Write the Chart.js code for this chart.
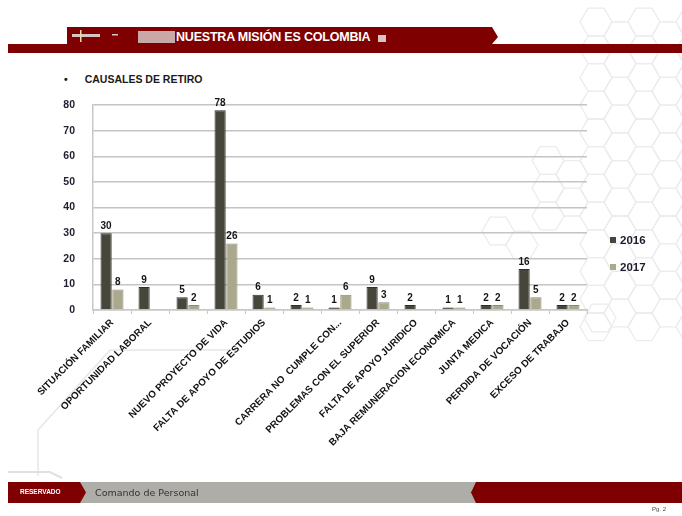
<!DOCTYPE html>
<html lang="es">
<head>
    <meta charset="UTF-8">
    <title>Causales de retiro</title>
    <script src="https://cdn.jsdelivr.net/npm/chart.js"></script>
    <style>
        body {
            margin: 0;
            padding: 0;
            background: #fff;
            font-family: 'Liberation Sans', Arial, sans-serif;
        }
        #page {
            position: relative;
            width: 682px;
            height: 516px;
            overflow: hidden;
        }
        #deco { position: absolute; left: 0; top: 0; }
        #chartBox { position: absolute; left: 0; top: 0; width: 682px; height: 516px; }
        .title {
            position: absolute; left: 64px; top: 73px;
            font-size: 10.5px; font-weight: bold; color: #1a1a1a;
        }
        .title span { margin-right: 17px; }
        .head-text {
            position: absolute; left: 176px; top: 30px;
            color: #fff; font-weight: bold; font-size: 12.5px; letter-spacing: -0.2px;
        }
        #legend { position: absolute; left: 610px; top: 226px; }
        .leg { display: flex; align-items: center; height: 27px; font-weight: bold; font-size: 11.5px; color: #1c1c2c; }
        .leg i { display: inline-block; width: 6px; height: 6px; margin-right: 4px; }
        .foot1 { position: absolute; left: 20px; top: 488px; color: #fff; font-size: 6.5px; font-weight: bold; }
        .foot2 { position: absolute; left: 95px; top: 487px; color: #333; font-size: 9.5px; font-family: 'DejaVu Sans', sans-serif; }
        .pg { position: absolute; left: 652px; top: 506px; color: #444; font-size: 6px; }
    </style>
</head>
<body>
<div id="page">
    <svg id="deco" width="682" height="516"></svg>
    <div class="head-text">NUESTRA MISIÓN ES COLOMBIA</div>
    <div class="title"><span>•</span>CAUSALES DE RETIRO</div>
    <div id="chartBox"><canvas id="chart" width="682" height="516"></canvas></div>
    <div id="legend"></div>
    <div class="foot1">RESERVADO</div>
    <div class="foot2">Comando de Personal</div>
    <div class="pg">Pg. 2</div>
</div>
<script>
// categories (two groups show no label in the original slide)
const categories = [
    'SITUACIÓN FAMILIAR', 'OPORTUNIDAD LABORAL', '', 'NUEVO PROYECTO DE VIDA',
    'FALTA DE APOYO DE ESTUDIOS', '', 'CARRERA NO  CUMPLE CON...', 'PROBLEMAS CON EL SUPERIOR',
    'FALTA DE APOYO JURIDICO', 'BAJA REMUNERACION ECONOMICA', 'JUNTA MEDICA',
    'PERDIDA DE VOCACIÓN', 'EXCESO DE TRABAJO'
];
const values2016 = [30, 9, 5, 78, 6, 2, 1, 9, 2, 1, 2, 16, 2];
const values2017 = [8, null, 2, 26, 1, 1, 6, 3, null, 1, 2, 5, 2];
const seriesNames = ['2016', '2017'];
const seriesColors = ['#46473a', '#aaa98e'];
const yTicks = [0, 10, 20, 30, 40, 50, 60, 70, 80];

// decoration: header, footer, hexagons
const svg = document.getElementById('deco');
let s = '';
function hex(cx, cy, r) {
    const p = [];
    for (let k = 0; k < 6; k++) {
        const a = Math.PI / 3 * k;
        p.push((cx + r * Math.cos(a)).toFixed(1) + ',' + (cy + r * Math.sin(a)).toFixed(1));
    }
    return `<polygon points="${p.join(' ')}" fill="none" stroke="#ececec" stroke-width="1.3"/>`;
}
const r = 16, dx = r * 1.5, dy = r * Math.sqrt(3);
for (let c = 0; c < 8; c++) {
    for (let row = 0; row < 12; row++) {
        const cx = 548 + c * dx;
        const cy = 22 + row * dy + (c % 2 ? dy / 2 : 0);
        if (cy > 330 - (c < 2 ? 110 : 0) || (c < 2 && cy < 150)) continue;
        s += hex(cx, cy, r);
    }
}
s += hex(522, 245, 16) + hex(498, 231, 16) + hex(600, 318, 16);
// faint lines bottom-left
s += '<polyline points="38,476 38,430 110,350 240,350" fill="none" stroke="#e6e6e6" stroke-width="1.5"/>';
s += '<polyline points="8,472 50,472 62,478" fill="none" stroke="#e0e0e0" stroke-width="2"/>';
// header
s += '<polygon points="67,27 492,27 498,37 492,44 67,44" fill="#7e0000"/>';
s += '<rect x="8" y="44" width="674" height="9" fill="#7e0000"/>';
s += '<rect x="138" y="31" width="37" height="12" fill="#c9a8a8"/>';
s += '<rect x="72" y="34" width="28" height="3" fill="#d8c4c4"/>';
s += '<rect x="80" y="30" width="1.5" height="12" fill="#e8e0b0"/>';
s += '<rect x="112" y="34" width="6" height="1.5" fill="#d8c4c4"/>';
s += '<rect x="378" y="35" width="8" height="7" fill="#d8c4c4"/>';
// footer
s += '<rect x="80" y="482" width="400" height="21" fill="#aeada8"/>';
s += '<polygon points="8,482 80,482 86,492.5 80,503 8,503" fill="#7e0000"/>';
s += '<polygon points="476,482 682,482 682,503 476,503 471,492.5" fill="#7e0000"/>';
svg.innerHTML = s;

// legend
document.getElementById('legend').innerHTML = seriesNames.map((n, i) =>
    `<div class="leg"><i style="background:${seriesColors[i]}"></i>${n}</div>`).join('');

// value labels above bars
const valueLabels = {
    id: 'valueLabels',
    afterDatasetsDraw(chart) {
        const ctx = chart.ctx;
        ctx.save();
        ctx.font = 'bold 10px "Liberation Sans", Arial, sans-serif';
        ctx.fillStyle = '#151515';
        ctx.textAlign = 'center';
        ctx.textBaseline = 'bottom';
        chart.data.datasets.forEach((ds, di) => {
            chart.getDatasetMeta(di).data.forEach((bar, i) => {
                const v = ds.data[i];
                if (v === null || v === undefined) return;
                ctx.fillText(v, bar.x, bar.y - 2);
            });
        });
        ctx.restore();
    }
};

new Chart(document.getElementById('chart'), {
    type: 'bar',
    data: {
        labels: categories,
        datasets: [
            {label: seriesNames[0], data: values2016, backgroundColor: seriesColors[0], borderColor: '#2e2f26', borderWidth: 1},
            {label: seriesNames[1], data: values2017, backgroundColor: seriesColors[1], borderColor: '#8a896f', borderWidth: 1}
        ]
    },
    options: {
        responsive: false,
        animation: false,
        layout: {padding: {left: 40, top: 105, right: 95, bottom: 0}},
        datasets: {bar: {categoryPercentage: 0.62, barPercentage: 0.95}},
        plugins: {legend: {display: false}, tooltip: {enabled: false}},
        scales: {
            x: {
                afterFit: sc => { sc.height = 206; },
                grid: {display: true, drawOnChartArea: false, offset: true, tickLength: 4, color: '#c8c8c8'},
                border: {color: '#c8c8c8', width: 1.5},
                ticks: {
                    autoSkip: false, minRotation: 45, maxRotation: 45, padding: 3,
                    color: '#111',
                    font: {family: '"Liberation Sans", Arial, sans-serif', size: 9.8, weight: 'bold'}
                }
            },
            y: {
                min: 0, max: 80,
                afterFit: sc => { sc.width = 53; },
                afterBuildTicks: sc => { sc.ticks = yTicks.map(v => ({value: v})); },
                grid: {color: '#c4c4c4', lineWidth: 1.5, drawTicks: false},
                border: {color: '#c8c8c8', width: 1.5},
                ticks: {
                    padding: 18, color: '#1e1e2e',
                    font: {family: '"Liberation Sans", Arial, sans-serif', size: 10.5, weight: 'bold'}
                }
            }
        }
    },
    plugins: [valueLabels]
});
</script>
</body>
</html>
